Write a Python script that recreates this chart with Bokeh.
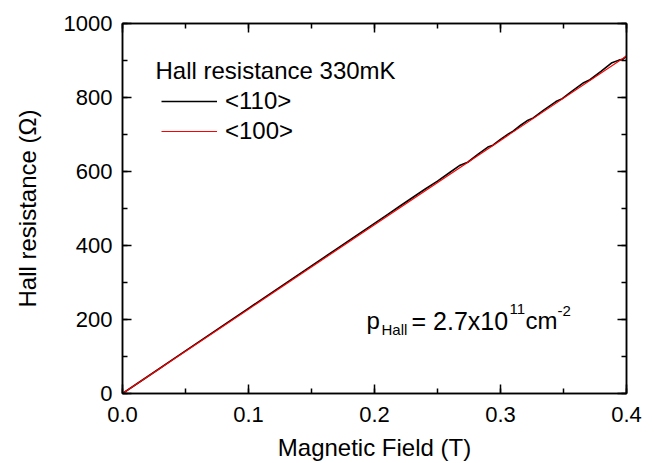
from bokeh.plotting import figure
from bokeh.models import (LinearAxis, SingleIntervalTicker, NumeralTickFormatter,
                          Label, Legend, LegendItem, ColumnDataSource)
from bokeh.embed import file_html
from bokeh.resources import INLINE

# ---- data ----
field_110 = [0.0, 0.01, 0.02, 0.03, 0.04, 0.05, 0.06, 0.07, 0.08, 0.09, 0.10,
             0.11, 0.12, 0.13, 0.14, 0.15, 0.16, 0.17, 0.18, 0.19, 0.20,
             0.21, 0.22, 0.23, 0.24, 0.25, 0.26, 0.268, 0.274, 0.282, 0.290,
             0.294, 0.300, 0.306, 0.310, 0.316, 0.321, 0.326, 0.334, 0.344,
             0.349, 0.356, 0.366, 0.371, 0.380, 0.388, 0.394, 0.397, 0.400]
hall_110 = [0, 23, 46, 69, 92, 115, 138, 161, 184, 207, 230,
            253, 276, 299, 322, 345, 368, 391, 414, 437, 460,
            483, 506, 529, 552, 574, 598, 617, 625, 646, 666,
            671, 687, 701, 709, 725, 737, 745, 765, 789,
            797, 815, 840, 848, 871, 893, 901, 903, 912]
field_100 = [0.0, 0.1, 0.2, 0.3, 0.4]
hall_100 = [0, 228, 456, 684, 912]

title_text = "Hall resistance 330mK"
series_labels = ["<110>", "<100>"]
x_title = "Magnetic Field (T)"
y_title = "Hall resistance (\u03a9)"

FONT = "Liberation Sans"
PX_PER_T = 1260.0      # frame pixels per tesla
PX_PER_OHM = 0.37      # frame pixels per ohm
FL, FB = 122, 393      # frame left / bottom on the page

def dx(px):
    return (px - FL) / PX_PER_T

def dy(py):
    return (FB - py) / PX_PER_OHM

p = figure(width=662, height=463, x_range=(0, 0.4), y_range=(0, 1000),
           output_backend="svg", toolbar_location=None,
           min_border_left=122, min_border_top=23, min_border_right=36,
           min_border_bottom=70, background_fill_color="white",
           border_fill_color="white")
p.grid.visible = False
p.outline_line_color = "black"
p.outline_line_width = 1.5

def style_axis(ax, show_labels=True):
    ax.axis_line_color = "black"
    ax.axis_line_width = 1.5
    ax.major_tick_in = 9
    ax.major_tick_out = 0
    ax.minor_tick_in = 5
    ax.minor_tick_out = 0
    ax.major_tick_line_width = 1.5
    ax.minor_tick_line_width = 1.5
    ax.major_tick_line_color = "black"
    ax.minor_tick_line_color = "black"
    ax.major_label_text_font = FONT
    if show_labels:
        ax.major_label_text_font_size = "22px"
        ax.major_label_text_color = "black"
        ax.major_label_standoff = 10
        ax.axis_label_text_font = FONT
        ax.axis_label_text_font_size = "24px"
        ax.axis_label_text_font_style = "normal"
        ax.axis_label_text_color = "black"
    else:
        ax.major_label_text_color = None
        ax.major_label_standoff = 0

xa = p.xaxis[0]
xa.ticker = SingleIntervalTicker(interval=0.1, num_minor_ticks=2)
xa.formatter = NumeralTickFormatter(format="0.0")
style_axis(xa)
xa.major_label_standoff = 13
xa.axis_label = x_title
xa.axis_label_standoff = 9

ya = p.yaxis[0]
ya.ticker = SingleIntervalTicker(interval=200, num_minor_ticks=2)
style_axis(ya)
ya.axis_label = y_title
ya.axis_label_standoff = 20

top = LinearAxis(ticker=SingleIntervalTicker(interval=0.1, num_minor_ticks=2))
style_axis(top, False)
p.add_layout(top, "above")
right = LinearAxis(ticker=SingleIntervalTicker(interval=200, num_minor_ticks=2))
style_axis(right, False)
p.add_layout(right, "right")

src110 = ColumnDataSource(dict(x=field_110, y=hall_110))
src100 = ColumnDataSource(dict(x=field_100, y=hall_100))
r110 = p.line("x", "y", source=src110, line_color="black", line_width=1.6)
r100 = p.line("x", "y", source=src100, line_color="#ff0000", line_width=1.2)

legend = Legend(items=[LegendItem(label=series_labels[0], renderers=[r110]),
                       LegendItem(label=series_labels[1], renderers=[r100])],
                location=(39, 247))
legend.label_text_font = FONT
legend.label_text_font_size = "24px"
legend.label_text_color = "black"
legend.glyph_width = 56
legend.glyph_height = 30
legend.label_height = 30
legend.label_standoff = 8
legend.spacing = 0
legend.padding = 0
legend.margin = 0
legend.border_line_color = None
legend.background_fill_alpha = 0
p.add_layout(legend, "center")

# legend heading
p.add_layout(Label(x=dx(155), y=dy(70), text=title_text, text_align="left",
                   text_baseline="alphabetic", text_font=FONT,
                   text_font_size="24px", text_color="black"))

# carrier density annotation with sub/superscripts
parts = [
    ("p", 366, 0, "24px"),
    ("Hall", 381, -9, "15px"),
    ("= 2.7x10", 411, 0, "25px"),
    ("11", 509, 12, "15px"),
    ("cm", 525, 0, "24px"),
    ("-2", 557, 10, "15px"),
]
for txt, xpix, yoff, fs in parts:
    p.add_layout(Label(x=dx(366), y=dy(320), x_offset=xpix - 366, y_offset=yoff,
                       text=txt, text_align="left", text_baseline="alphabetic",
                       text_font=FONT, text_font_size=fs, text_color="black"))

open("out.html", "w").write(file_html(p, INLINE))
